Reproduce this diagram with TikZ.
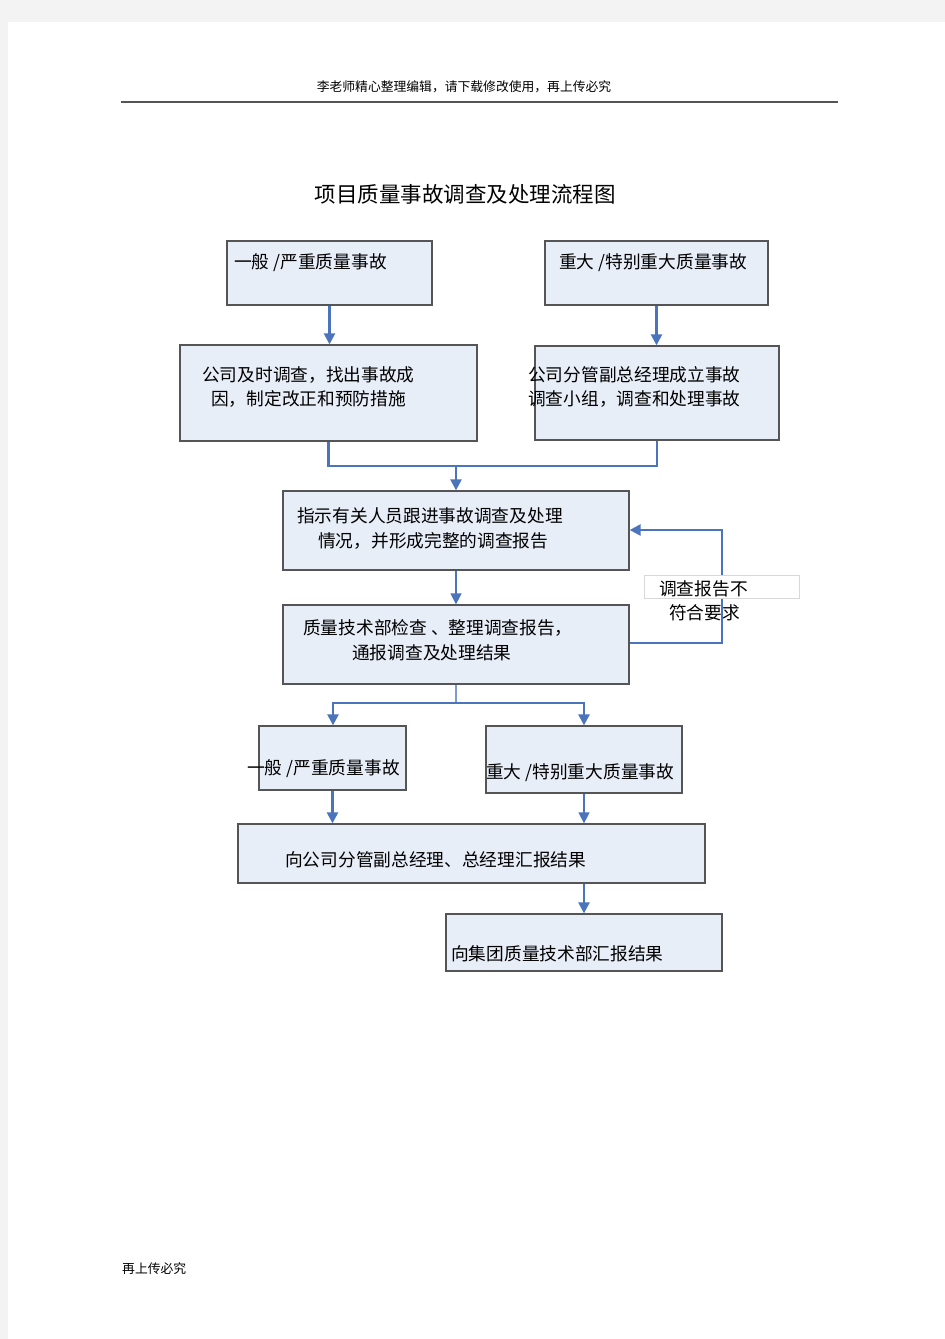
\documentclass[tikz,border=0pt]{standalone}
\usepackage{fontspec}
\setmainfont{Noto Sans CJK SC}
\usetikzlibrary{arrows.meta}
\definecolor{pagegray}{HTML}{F3F3F3}
\definecolor{boxfill}{HTML}{E8EEF8}
\definecolor{boxline}{HTML}{555555}
\definecolor{flowblue}{HTML}{4A74BC}
\definecolor{flowlight}{HTML}{7C9CCF}
\definecolor{lblline}{HTML}{D8D8D8}
\tikzset{
  box/.style={draw=boxline, line width=1.3pt, fill=boxfill, inner sep=0pt},
  txt/.style={anchor=west, inner sep=0pt, font=\fontsize{17.7}{20}\selectfont, text=black},
  flow/.style={draw=flowblue, line width=2.4pt},
  flowarr/.style={flow, -{Triangle[length=11pt,width=11pt]}},
  flowthin/.style={draw=flowlight, line width=1.5pt},
  flowthinarr/.style={flowthin, -{Triangle[length=11pt,width=11pt]}, color=flowblue},
}
\begin{document}
\begin{tikzpicture}[x=1pt,y=-1pt]
\useasboundingbox (0,0) rectangle (945,1339);
\fill[pagegray] (0,0) rectangle (945,1339);
\fill[white] (8,22) rectangle (945,1339);

% header / footer
\node[anchor=center, inner sep=0pt, font=\fontsize{12.8}{14}\selectfont] (hdr) at (464,87) {李老师精心整理编辑，请下载修改使用，再上传必究};
\draw[line width=1.6pt, color=boxline] (121,102) -- (838,102);
\node[anchor=west, inner sep=0pt, font=\fontsize{12.8}{14}\selectfont] (ftr) at (122,1269) {再上传必究};

% title
\node[anchor=center, inner sep=0pt, font=\fontsize{21.5}{24}\selectfont] (title) at (465,194) {项目质量事故调查及处理流程图};

% boxes
\node[box, minimum width=205pt, minimum height=64pt] (b1) at (329.5,273) {};
\node[box, minimum width=223pt, minimum height=64pt] (b2) at (656.5,273) {};
\node[box, minimum width=297pt, minimum height=96pt] (b3) at (328.5,393) {};
\node[box, minimum width=244pt, minimum height=94pt] (b4) at (657,393) {};
\node[box, minimum width=346pt, minimum height=79pt] (b5) at (456,530.5) {};
\node[box, minimum width=346pt, minimum height=79pt] (b6) at (456,644.5) {};
\node[box, minimum width=147pt, minimum height=64pt] (b7) at (332.5,758) {};
\node[box, minimum width=196pt, minimum height=67pt] (b8) at (584,759.5) {};
\node[box, minimum width=467pt, minimum height=59pt] (b9) at (471.5,853.5) {};
\node[box, minimum width=276pt, minimum height=57pt] (b10) at (584,942.5) {};

% box texts
\node[txt] (t1) at (234,263) {一般 /严重质量事故};
\node[txt] (t2) at (559,263) {重大 /特别重大质量事故};
\node[txt] (t3a) at (202,375) {公司及时调查，找出事故成};
\node[txt] (t3b) at (211,399) {因，制定改正和预防措施};
\node[txt] (t4a) at (528,375) {公司分管副总经理成立事故};
\node[txt] (t4b) at (528,399) {调查小组，调查和处理事故};
\node[txt] (t5a) at (297,516) {指示有关人员跟进事故调查及处理};
\node[txt] (t5b) at (318,541) {情况，并形成完整的调查报告};
\node[txt] (t6a) at (303,628) {质量技术部检查 、整理调查报告，};
\node[txt] (t6b) at (352,653) {通报调查及处理结果};
\node[txt] (t7) at (247,769) {一般 /严重质量事故};
\node[txt] (t8) at (486,773) {重大 /特别重大质量事故};
\node[txt] (t9) at (285,860) {向公司分管副总经理、总经理汇报结果};
\node[txt] (t10) at (451,954) {向集团质量技术部汇报结果};

% connectors
\draw[flowarr] (b1.south) -- (b1.south |- b3.north);
\draw[flowarr] (b2.south) -- (b2.south |- b4.north);
\coordinate (m) at (456,466);
\draw[flow] (b3.south) |- (m) -| (b4.south);
\draw[flowarr] (m) -- (m |- b5.north);
\draw[flowthinarr] (b5.south) -- (b6.north);

\coordinate (fb1) at (722,643);
\coordinate (fb2) at (722,530);
\draw[flowarr] (b6.east |- fb1) -- (fb1) -- (fb2) -- (b5.east |- fb2);
\node[draw=lblline, line width=0.8pt, fill=white, minimum width=155pt, minimum height=23pt, inner sep=0pt] (lbl) at (721.5,586.5) {};
\node[txt] (lt1) at (659,589) {调查报告不};
\node[txt] (lt2) at (669,613) {符合要求};

\coordinate (s) at (456,703);
\coordinate (sl) at (333,703);
\coordinate (sr) at (584,703);
\draw[flowthin] (b6.south) -- (s);
\draw[flowarr] (s) -- (sl) -- (sl |- b7.north);
\draw[flowarr] (s) -- (sr) -- (sr |- b8.north);
\draw[flowarr] (b7.south) -- (b7.south |- b9.north);
\draw[flowthinarr] (b8.south) -- (b8.south |- b9.north);
\draw[flowarr] (b10.north |- b9.south) -- (b10.north);
\end{tikzpicture}
\end{document}
